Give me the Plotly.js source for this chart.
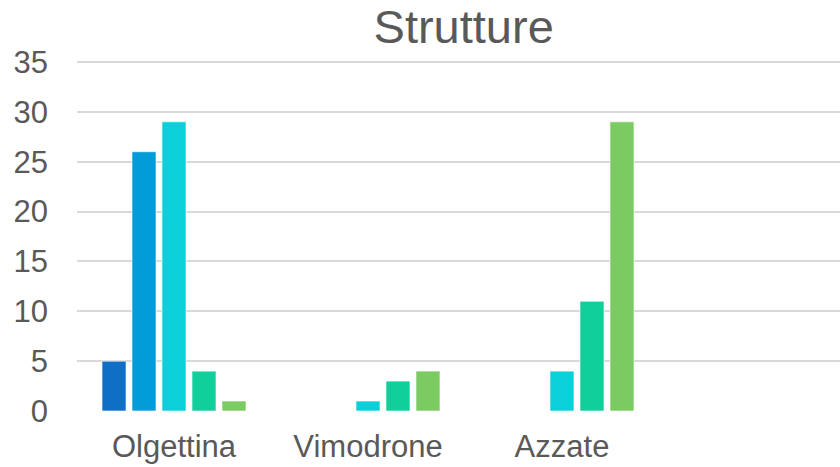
<!DOCTYPE html>
<html>
<head>
<meta charset="utf-8">
<script src="https://cdn.plot.ly/plotly-3.0.1.min.js"></script>
<style>html,body{margin:0;padding:0;background:#fff;}#chart{width:840px;height:467px;}</style>
</head>
<body>
<div id="chart"></div>
<script>
const categories = ["Olgettina", "Vimodrone", "Azzate"];
const seriesNames = ["Serie 1", "Serie 2", "Serie 3", "Serie 4", "Serie 5"];
const serie1 = [5, null, null];
const serie2 = [26, null, null];
const serie3 = [29, 1, 4];
const serie4 = [4, 3, 11];
const serie5 = [1, 4, 29];
const colors = ["#0F6FC6", "#009DD9", "#0BD0D9", "#10CF9B", "#7CCA62"];
const allSeries = [serie1, serie2, serie3, serie4, serie5];
const yTicks = [0, 5, 10, 15, 20, 25, 30, 35];

const traces = allSeries.map((vals, i) => ({
  type: "bar",
  name: seriesNames[i],
  x: categories,
  y: vals,
  marker: {color: colors[i], line: {color: "rgba(255,255,255,0.6)", width: 1}},
  hoverinfo: "x+y"
}));

const layout = {
  width: 840, height: 467,
  margin: {l: 77, r: 0, t: 60, b: 56, pad: 0},
  paper_bgcolor: "#ffffff", plot_bgcolor: "#ffffff",
  showlegend: false,
  barmode: "group",
  bargap: 0.227,
  bargroupgap: 0.2,
  font: {family: "Liberation Sans, Arial, sans-serif", color: "#595959"},
  title: {text: "Strutture", font: {size: 47, color: "#595959"}, x: 0.552, xanchor: "center", y: 0.944, yanchor: "middle"},
  xaxis: {
    type: "category",
    range: [-0.5, 3.433],
    showgrid: false, zeroline: false, showline: false,
    ticks: "", tickfont: {size: 31, color: "#595959"},
    ticklabelstandoff: 14
  },
  yaxis: {
    range: [0, 35.2],
    tickvals: yTicks,
    showgrid: true, gridcolor: "#D9D9D9", gridwidth: 2,
    zeroline: false, showline: false,
    ticks: "", tickfont: {size: 31, color: "#595959"},
    ticklabelstandoff: 28
  }
};

Plotly.newPlot("chart", traces, layout, {staticPlot: true});
</script>
</body>
</html>
